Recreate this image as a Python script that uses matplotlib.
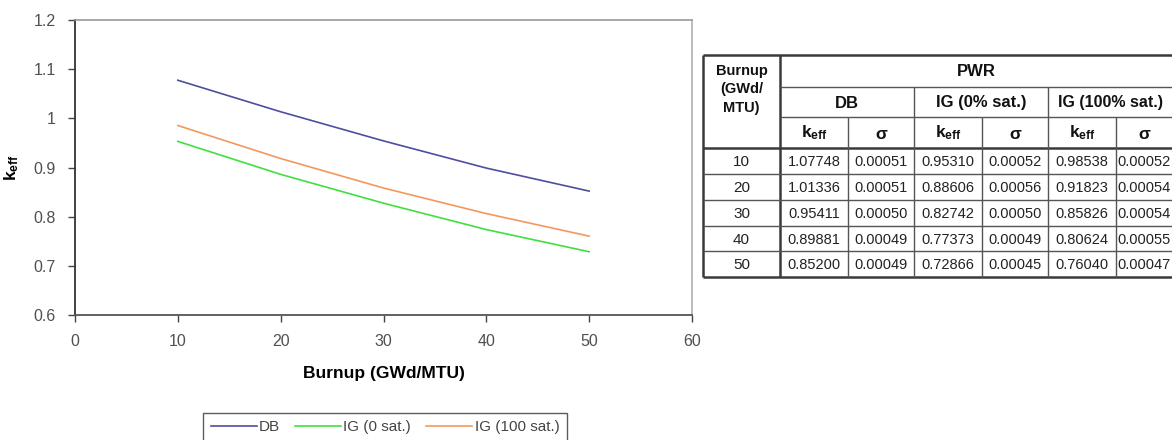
import matplotlib
matplotlib.use("Agg")
import matplotlib.pyplot as plt
from matplotlib.lines import Line2D

plt.rcParams['mathtext.fontset'] = 'custom'
plt.rcParams['mathtext.rm'] = 'Liberation Sans'
plt.rcParams['mathtext.bf'] = 'Liberation Sans:bold'
plt.rcParams['mathtext.it'] = 'Liberation Sans:italic'

# ---- data ----
burnup = [10, 20, 30, 40, 50]
keff_db = [1.07748, 1.01336, 0.95411, 0.89881, 0.85200]
sig_db = [0.00051, 0.00051, 0.00050, 0.00049, 0.00049]
keff_ig0 = [0.95310, 0.88606, 0.82742, 0.77373, 0.72866]
sig_ig0 = [0.00052, 0.00056, 0.00050, 0.00049, 0.00045]
keff_ig100 = [0.98538, 0.91823, 0.85826, 0.80624, 0.76040]
sig_ig100 = [0.00052, 0.00054, 0.00054, 0.00055, 0.00047]
series_labels = ["DB", "IG (0 sat.)", "IG (100 sat.)"]
series_colors = ["#4e4e9e", "#3fe03f", "#f3985c"]
x_ticks = [0, 10, 20, 30, 40, 50, 60]
y_ticks = [0.6, 0.7, 0.8, 0.9, 1.0, 1.1, 1.2]
y_ticklabels = ["0.6", "0.7", "0.8", "0.9", "1", "1.1", "1.2"]

REG = ['Liberation Sans', 'DejaVu Sans']

W, H = 1172, 440
fig = plt.figure(figsize=(W / 100, H / 100), dpi=100)

# ---- chart ----
L, R, T, B = 75, 692, 20, 315
ax = fig.add_axes([L / W, 1 - B / H, (R - L) / W, (B - T) / H])
for ys, c, lab in zip([keff_db, keff_ig0, keff_ig100], series_colors, series_labels):
    ax.plot(burnup, ys, color=c, lw=1.2, label=lab)
ax.set_xlim(0, 60)
ax.set_ylim(0.6, 1.2)
ax.set_xticks(x_ticks)
ax.set_yticks(y_ticks)
ax.set_yticklabels(y_ticklabels)
for lbl in ax.get_xticklabels() + ax.get_yticklabels():
    lbl.set_fontfamily(REG)
    lbl.set_fontsize(11.5)
    lbl.set_color('#505050')
ax.tick_params(axis='both', direction='out', length=5, width=1, color='#444444')
ax.tick_params(axis='x', pad=9)
ax.tick_params(axis='y', pad=9)
ax.spines['left'].set_color('#333333')
ax.spines['bottom'].set_color('#555555')
ax.spines['left'].set_linewidth(1.3)
ax.spines['bottom'].set_linewidth(1.3)
ax.spines['top'].set_color('#9a9a9a')
ax.spines['right'].set_color('#b0b0b0')
ax.spines['top'].set_linewidth(1.2)
ax.spines['right'].set_linewidth(1.2)
ax.set_xlabel("Burnup (GWd/MTU)", fontfamily=REG, fontweight='bold', fontsize=12.5, labelpad=12)
ax.set_ylabel(r"$\mathbf{k_{eff}}$", fontsize=12.5, labelpad=9)

leg = fig.legend(handles=[Line2D([], [], color=c, lw=1.2) for c in series_colors],
                 labels=series_labels, loc='upper center',
                 bbox_to_anchor=(385 / W, 1 - 405 / H), ncol=3, frameon=True,
                 fancybox=False, edgecolor='#333333', handlelength=3.0,
                 handletextpad=0.15, columnspacing=1.0, borderpad=0.5,
                 prop={'family': REG, 'size': 11})
leg.get_frame().set_linewidth(1.0)
for t in leg.get_texts():
    t.set_color('#444444')

# ---- table ----
tax = fig.add_axes([0, 0, 1, 1])
tax.set_xlim(0, W)
tax.set_ylim(H, 0)
tax.axis('off')

cx = [703, 780, 848, 914, 982, 1048, 1116, 1172]
ry = [55, 87, 117, 148, 174, 200, 226, 251, 277]
thick = dict(color='#3a3a3a', lw=1.8, solid_capstyle='butt')
thin = dict(color='#555555', lw=1.0, solid_capstyle='butt')

tax.plot([cx[0], cx[-1]], [ry[0], ry[0]], **thick)
tax.plot([cx[0], cx[-1]], [ry[-1], ry[-1]], **thick)
tax.plot([cx[0], cx[-1]], [ry[3], ry[3]], **thick)
tax.plot([cx[0], cx[0]], [ry[0], ry[-1]], **thick)
tax.plot([cx[1], cx[1]], [ry[0], ry[-1]], **thick)
tax.plot([cx[1], cx[-1]], [ry[1], ry[1]], **thin)
tax.plot([cx[1], cx[-1]], [ry[2], ry[2]], **thin)
for i in (3, 5):
    tax.plot([cx[i], cx[i]], [ry[1], ry[-1]], **thin)
for i in (2, 4, 6):
    tax.plot([cx[i], cx[i]], [ry[2], ry[-1]], **thin)
for j in range(4, 8):
    tax.plot([cx[0], cx[-1]], [ry[j], ry[j]], **thin)

hb = dict(fontfamily=REG, fontweight='bold', ha='center', va='center', color='#111111')
tax.text((cx[0] + cx[1]) / 2, 64, "Burnup\n(GWd/\nMTU)", fontsize=10.5, va='top',
         ha='center', fontfamily=REG, fontweight='bold', color='#111111', linespacing=1.4)
tax.text((cx[1] + cx[-1]) / 2, (ry[0] + ry[1]) / 2, "PWR", fontsize=12, **hb)
group_labels = ["DB", "IG (0% sat.)", "IG (100% sat.)"]
for g, lab in enumerate(group_labels):
    x0, x1 = cx[1 + 2 * g], cx[3 + 2 * g]
    tax.text((x0 + x1) / 2, (ry[1] + ry[2]) / 2 + 1, lab, fontsize=12 if g < 2 else 11.5, **hb)
    tax.text((x0 + cx[2 + 2 * g]) / 2, (ry[2] + ry[3]) / 2, r"$\mathbf{k_{eff}}$",
             fontsize=12.5, ha='center', va='center', color='#111111')
    tax.text((cx[2 + 2 * g] + x1) / 2, (ry[2] + ry[3]) / 2 + 2, "σ", fontsize=12.5, **hb)

cols = [keff_db, sig_db, keff_ig0, sig_ig0, keff_ig100, sig_ig100]
for r in range(len(burnup)):
    yc = (ry[3 + r] + ry[4 + r]) / 2 + 1
    tax.text((cx[0] + cx[1]) / 2, yc, str(burnup[r]), fontsize=11, fontfamily=REG,
             ha='center', va='center', color='#222222')
    for c, vals in enumerate(cols):
        tax.text((cx[1 + c] + cx[2 + c]) / 2, yc, f"{vals[r]:.5f}", fontsize=10.5,
                 fontfamily=REG, ha='center', va='center', color='#222222')

fig.savefig("out.png", dpi=100)
